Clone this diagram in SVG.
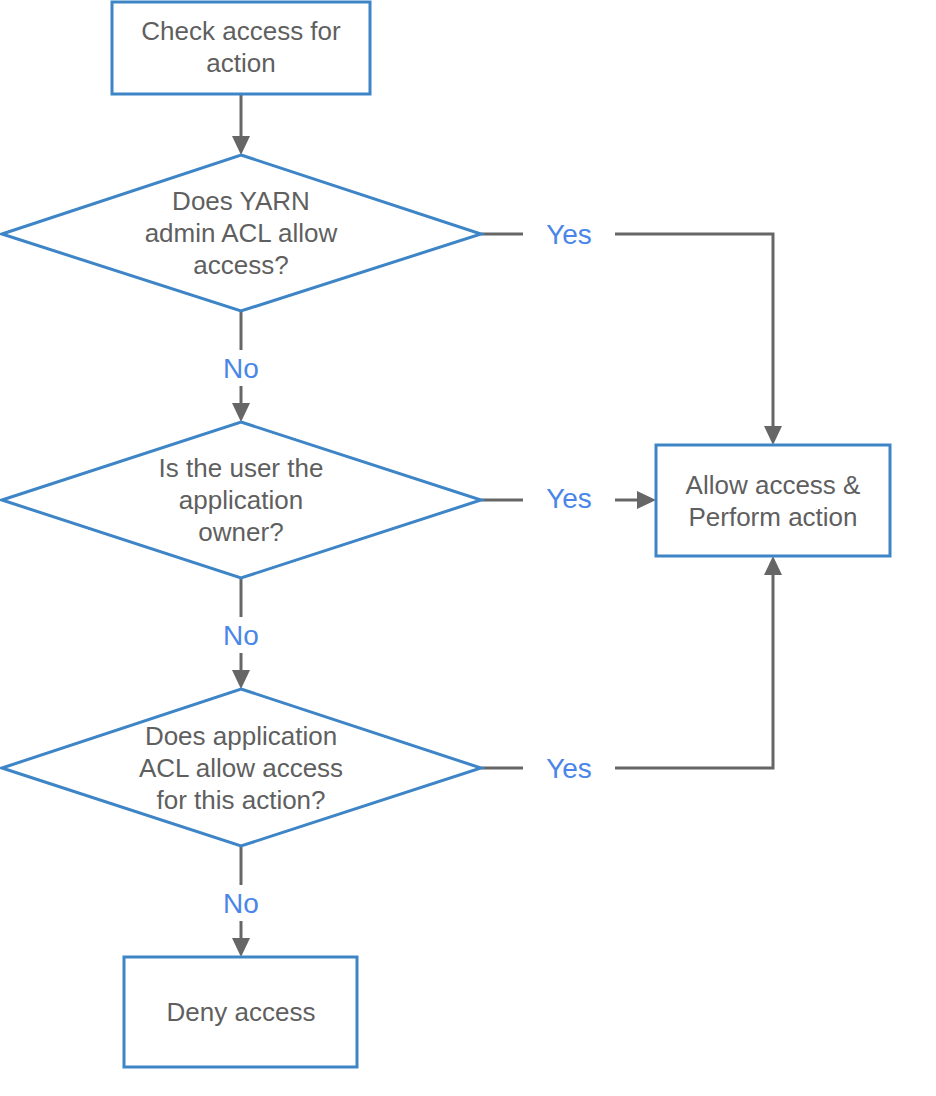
<svg xmlns="http://www.w3.org/2000/svg" width="936" height="1096" viewBox="0 0 936 1096">
<style>
.box{fill:#fff;stroke:#3d85c6;stroke-width:3}
.t{font-family:"Liberation Sans",Arial,sans-serif;font-size:26px;fill:#5f5f5f;text-anchor:middle}
.lbl{font-family:"Liberation Sans",Arial,sans-serif;font-size:28px;fill:#4a86e8;text-anchor:middle}
.c{fill:none;stroke:#666;stroke-width:3}
.ah{fill:#666}
</style>
<rect width="936" height="1096" fill="#fff"/>
<g id="connectors">
<path class="c" d="M241,94 V140"/>
<polygon class="ah" points="232,136 250,136 241,155"/>
<path class="c" d="M241,311 V350"/>
<text class="lbl" x="241" y="378">No</text>
<path class="c" d="M241,386 V407"/>
<polygon class="ah" points="232,403 250,403 241,422"/>
<path class="c" d="M481,234 H523"/>
<text class="lbl" x="569" y="244">Yes</text>
<path class="c" d="M615,234 H773 V430"/>
<polygon class="ah" points="764,426 782,426 773,445"/>
<path class="c" d="M241,578 V617"/>
<text class="lbl" x="241" y="645">No</text>
<path class="c" d="M241,653 V674"/>
<polygon class="ah" points="232,670 250,670 241,689"/>
<path class="c" d="M481,500 H523"/>
<text class="lbl" x="569" y="508">Yes</text>
<path class="c" d="M615,500 H641"/>
<polygon class="ah" points="637,491 637,509 656,500"/>
<path class="c" d="M241,846 V885"/>
<text class="lbl" x="241" y="913">No</text>
<path class="c" d="M241,921 V942"/>
<polygon class="ah" points="232,938 250,938 241,957"/>
<path class="c" d="M481,768 H523"/>
<text class="lbl" x="569" y="778">Yes</text>
<path class="c" d="M615,768 H773 V571"/>
<polygon class="ah" points="764,575 782,575 773,556"/>
</g>
<g id="start">
<rect class="box" x="112" y="2" width="258" height="92"/>
<text class="t" x="241" y="40">Check access for</text>
<text class="t" x="241" y="72">action</text>
</g>
<g id="d1">
<polygon class="box" points="241,155 481,234 241,311 2,234"/>
<text class="t" x="241" y="210">Does YARN</text>
<text class="t" x="241" y="242">admin ACL allow</text>
<text class="t" x="241" y="274">access?</text>
</g>
<g id="d2">
<polygon class="box" points="241,422 481,500 241,578 2,500"/>
<text class="t" x="241" y="477">Is the user the</text>
<text class="t" x="241" y="509">application</text>
<text class="t" x="241" y="541">owner?</text>
</g>
<g id="d3">
<polygon class="box" points="241,689 481,768 241,846 2,768"/>
<text class="t" x="241" y="745">Does application</text>
<text class="t" x="241" y="777">ACL allow access</text>
<text class="t" x="241" y="809">for this action?</text>
</g>
<g id="allow">
<rect class="box" x="656" y="445" width="234" height="111"/>
<text class="t" x="773" y="494">Allow access &amp;</text>
<text class="t" x="773" y="526">Perform action</text>
</g>
<g id="deny">
<rect class="box" x="124" y="957" width="233" height="110"/>
<text class="t" x="241" y="1021">Deny access</text>
</g>
</svg>
